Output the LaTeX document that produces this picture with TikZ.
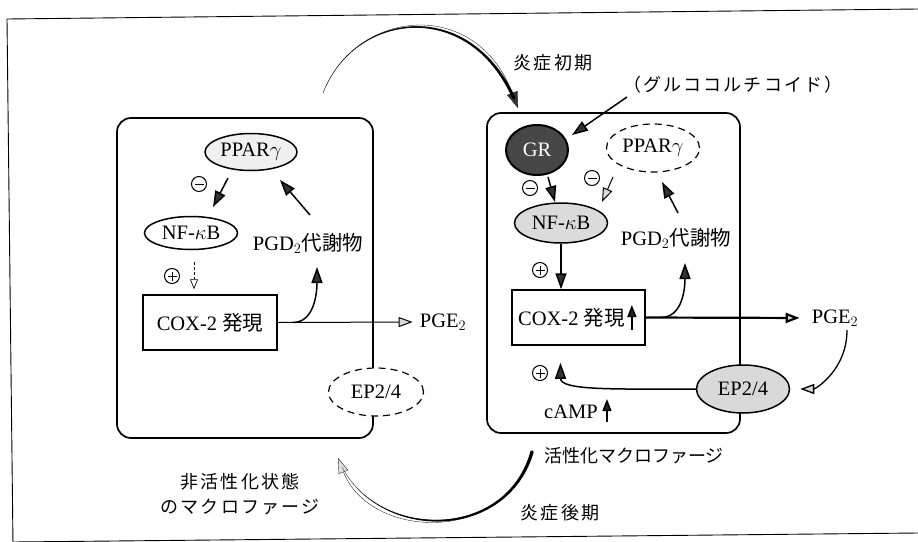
\documentclass[tikz,border=0pt]{standalone}
\usepackage{fontspec}
\setmainfont{Liberation Serif}
\newfontfamily\jpfont[LetterSpace=12]{Noto Sans CJK JP}
\newfontfamily\jpplain{Noto Sans CJK JP}
\newcommand\jp[1]{{\jpplain #1}}
\usetikzlibrary{shapes.geometric,arrows.meta,decorations.markings}
\begin{document}
\begin{tikzpicture}[x=1pt,y=-1pt,
  lbl/.style={font=\fontsize{20.5}{22}\selectfont, inner sep=0pt},
  jlbl/.style={font=\jpfont\fontsize{18}{25}\selectfont, inner sep=0pt, align=center},
  cell/.style={draw, line width=1.7pt, rounded corners=14pt, rectangle},
  oval/.style={ellipse, draw, line width=1.5pt, inner sep=0pt, font=\fontsize{20.5}{22}\selectfont},
  dashoval/.style={oval, dash pattern=on 7pt off 5pt, line width=1.2pt, fill=white},
  boxnode/.style={draw, rectangle, line width=1.5pt, inner sep=0pt, font=\fontsize{20.5}{22}\selectfont},
  darr/.style={-{Triangle[length=16pt,width=11pt,fill=black!80]}, line width=1.5pt},
  larr/.style={-{Triangle[length=14pt,width=10pt,fill=gray!30]}, line width=1pt},
  uparr/.style={-{Triangle[length=12pt,width=9pt,fill=black!85]}, line width=1.5pt},
  sgn/.style={circle, draw, line width=1pt, inner sep=0pt, minimum size=15pt},
  minsgn/.style={sgn, path picture={\draw[line width=1pt] ([xshift=3pt]path picture bounding box.west) -- ([xshift=-3pt]path picture bounding box.east);}},
  plussgn/.style={sgn, path picture={\draw[line width=1pt] ([xshift=3pt]path picture bounding box.west) -- ([xshift=-3pt]path picture bounding box.east) ([yshift=3pt]path picture bounding box.south) -- ([yshift=-3pt]path picture bounding box.north);}},
  taper/.style 2 args={postaction={decorate,decoration={markings, mark=between positions 0 and 0.95 step 0.7pt with {\pgfmathsetmacro\tpr{#1+(#2-#1)*\pgfkeysvalueof{/pgf/decoration/mark info/distance from start}/\pgfdecoratedpathlength}\fill (0,0) circle [radius=\tpr pt];}}}}
]
\path[use as bounding box] (0,0) rectangle (918,541);
% outer frame
\draw[line width=0.9pt] (918,9) -- (7,19) -- (13,545);
\draw[line width=0.9pt] (13,542) -- (918,533);

% cells
\node[cell, minimum width=256pt, minimum height=320pt] (cellL) at (245,278) {};
\node[cell, minimum width=253pt, minimum height=320pt] (cellR) at (613.5,273) {};

% left cell
\node[oval, fill=gray!12, minimum width=92pt, minimum height=37pt] (pparL) at (251,152) {PPAR$\gamma$};
\node[oval, fill=white, minimum width=93pt, minimum height=33pt] (nfL) at (191,233) {NF-$\kappa$B};
\node[lbl] (pgdL) at (308,243) {PGD$_2$\jp{代謝物}};
\node[boxnode, minimum width=134pt, minimum height=55pt] (coxL) at (210,322.5) {COX-2 \jp{発現}};
\node[lbl] (pgeL) at (443,322) {PGE$_2$};
\node[dashoval, minimum width=95pt, minimum height=48pt] (epL) at (376,392) {EP2/4};
\node[minsgn] (sL1) at (199,184) {};
\node[plussgn] (sL2) at (172,276) {};

\draw[darr] ([shift={(-23,26)}]pparL.center) -- ([shift={(22,-26)}]nfL.center);
\draw[darr] ([shift={(2,-28)}]pgdL.center) -- ([shift={(29,28)}]pparL.center);
\draw[dash pattern=on 3pt off 2pt, line width=0.7pt, -{Triangle[open, length=10pt, width=8pt]}, shorten >=5pt] ([shift={(3,29)}]nfL.center) -- ([xshift=3pt]nfL.center |- coxL.north);
\draw[larr, shorten >=7pt] (coxL.east) -- (pgeL.west);
\draw[darr] ([xshift=15pt]coxL.east) .. controls +(22,0) and +(0,25) .. ([shift={(9,24)}]pgdL.center);

% right cell
\node[oval, fill=black!72, text=white, minimum width=62pt, minimum height=50pt, line width=2pt] (gr) at (537,150) {GR};
\node[dashoval, minimum width=93pt, minimum height=48pt] (pparR) at (653,148) {PPAR$\gamma$};
\node[oval, fill=gray!28, minimum width=93pt, minimum height=40pt] (nfR) at (561,223) {NF-$\kappa$B};
\node[lbl] (pgdR) at (676,238) {PGD$_2$\jp{代謝物}};
\node[boxnode, minimum width=133pt, minimum height=55pt] (coxR) at (578.5,317.5) {};
\node[lbl, anchor=west] (coxRt) at (518,318) {COX-2 \jp{発現}};
\node[lbl] (pgeR) at (835,318) {PGE$_2$};
\node[oval, fill=gray!30, minimum width=93pt, minimum height=48pt] (epR) at (743,389) {EP2/4};
\node[lbl] (camp) at (571,412) {cAMP};
\node[minsgn] (sR1) at (530,188) {};
\node[minsgn] (sR2) at (592,178) {};
\node[plussgn] (sR3) at (540,270) {};
\node[plussgn] (sR4) at (540,373) {};

\draw[darr] ([shift={(11,27)}]gr.center) -- ([shift={(-6,-21)}]nfR.center);
\draw[larr] ([shift={(-40,29)}]pparR.center) -- ([shift={(41,-21)}]nfR.center);
\draw[darr] ([shift={(2,-25)}]pgdR.center) -- ([shift={(9,34)}]pparR.center);
\draw[darr] (nfR.south) -- (nfR.south |- coxR.north);
\draw[uparr] ([shift={(7,12)}]coxRt.east) -- ([shift={(7,-13)}]coxRt.east);
\draw[larr, line width=2.2pt, shorten >=12pt] (coxR.east) -- (pgeR.west);
\draw[darr] ([xshift=15pt]coxR.east) .. controls +(22,0) and +(0,25) .. ([shift={(9,25)}]pgdR.center);
\draw[larr, line width=1.3pt, shorten >=10pt] ([shift={(12,12)}]pgeR.center) .. controls +(0,40) and +(25,0) .. (epR.east);
\draw[darr] (epR.west) .. controls +(-80,0) and +(0,28) .. ([shift={(-18,17)}]coxR.south);
\draw[uparr] ([shift={(9,10)}]camp.east) -- ([shift={(9,-13)}]camp.east);

% labels
\node[jlbl] (gluco) at (733,85) {（グルココルチコイド）};
\node[jlbl] (early) at (553,63) {炎症初期};
\node[jlbl] (late) at (560,513) {炎症後期};
\node[jlbl, font=\jpplain\fontsize{18}{25}\selectfont] (act) at (634,456) {活性化マクロファージ};
\node[jlbl] (inact) at (240,494) {非活性化状態\\のマクロファージ};
\draw[darr] ([shift={(-106,12)}]gluco.center) -- ([shift={(35,-15)}]gr.center);

% big transition arrows
\coordinate (topS) at (323,93);
\coordinate (topE) at (518,108);
\coordinate (botS) at (532,452);
\coordinate (botE) at (338,458);
\draw[line width=0.3pt, taper={0.15}{1.8}, -{Triangle[length=16pt,width=11pt,fill=black!80]}] (topS) .. controls (355,10) and (475,-5) .. (topE);
\draw[line width=0.3pt, taper={1.8}{0.2}, -{Triangle[length=15pt,width=10pt,fill=gray!25]}] (botS) .. controls (505,545) and (370,540) .. (botE);
\end{tikzpicture}
\end{document}
